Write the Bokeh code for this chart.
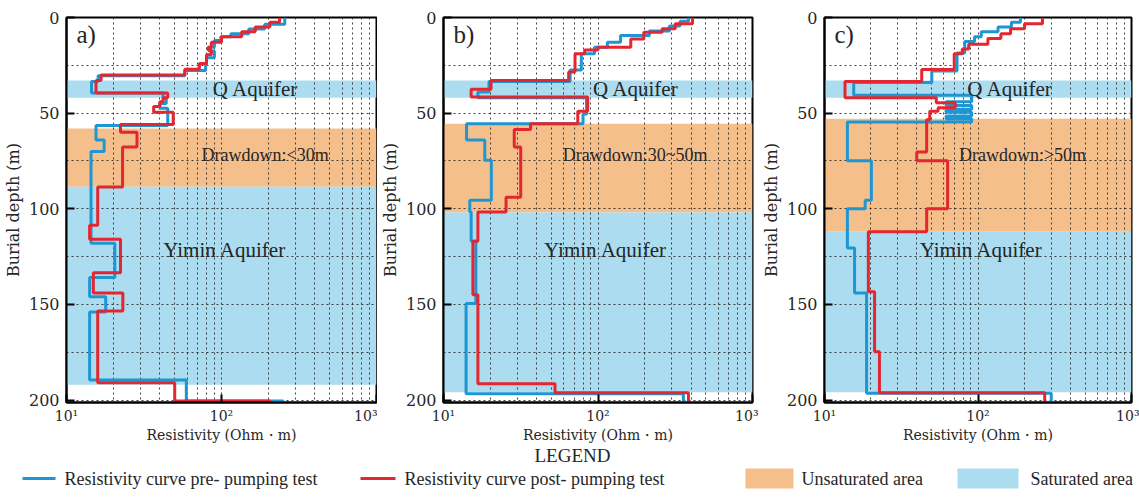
from bokeh.plotting import figure
from bokeh.models import Range1d, FixedTicker
from bokeh.layouts import column, row
from bokeh.embed import file_html
from bokeh.resources import INLINE
from bokeh.core.properties import value

FONT = "Liberation Serif"
AX_FONT = "DejaVu Serif"
PRE_COLOR = "#1E96D4"
POST_COLOR = "#E3262F"
SAT_COLOR = "#ABDCF0"
UNSAT_COLOR = "#F5BF8C"
TEXT_COLOR = "#262626"
GRID_COLOR = "#222222"

DEPTH_MAX = 201.3
X_TICKS = [10, 100, 1000]
X_MINOR = [20, 30, 40, 50, 60, 70, 80, 90, 200, 300, 400, 500, 600, 700, 800, 900]
Y_TICKS = [0, 50, 100, 150, 200]
Y_MINOR = [25, 75, 125, 175]
X_LABELS = {10: "10\u00b9", 100: "10\u00b2", 1000: "10\u00b3"}

# ---- panel a (drawdown < 30 m) ----
a_pre_top = [0, 3.5, 6, 8.5, 10, 12, 15.5, 17.5, 21, 25, 27.7, 30.5, 33.5, 39.5, 42.5, 45, 47.5,
             56.5, 64, 70, 118, 136, 146, 154, 189.6, 200.5]
a_pre_res = [256, 190, 150, 115, 99, 90, 83, 90, 80, 79, 58, 16, 14.5, 42, 44, 40, 45,
             15.5, 17.5, 14.4, 20.5, 14.1, 17.9, 14.1, 59.3, 250]
a_post_top = [0, 2.5, 5, 7.5, 10, 13, 15.5, 17, 19.5, 24, 27, 30, 33, 39.5, 42, 44, 46.5, 49.5,
              56, 60, 67.7, 88.6, 108.6, 116, 133.5, 144, 153.5, 191, 200.5]
a_post_res = [237, 205, 165, 135, 100, 86, 82, 86, 80, 72, 58, 16.7, 15.5, 45, 42, 40, 36.5, 48.8,
              22.3, 28.5, 23, 15.9, 14.1, 22.3, 14.9, 23.1, 15.9, 49.9, 205]
a_q_band = [33, 42]
a_unsat_band = [58, 88.5]
a_yimin_band = [88.5, 192]

# ---- panel b (drawdown 30~50 m) ----
b_pre_top = [0, 2, 4.5, 7, 9.4, 12.9, 15.5, 19, 27.5, 33.4, 39, 41.9, 50.5, 55.5, 64, 74.7,
             95.6, 101.7, 117, 149.5, 196.7]
b_pre_res = [385, 340, 290, 215, 140, 115, 95, 78, 66, 19.7, 16.7, 84.3, 80, 14.1, 18.5, 20.4,
             14.8, 15.1, 16.2, 14, 357]
b_post_top = [0, 3.3, 5.9, 7.7, 11.2, 15.5, 17, 19, 28.5, 33, 37.5, 41.6, 49, 55.5, 58.5, 67.7,
              94, 101.7, 117, 145, 191.5, 196.2]
b_post_res = [409, 316, 260, 198, 163, 100, 82, 71, 64.6, 20.3, 15.1, 85.8, 74, 36.6, 28.7, 31.6,
              25.4, 16.7, 15.5, 16.7, 52.7, 385]
b_q_band = [33, 42]
b_unsat_band = [55.5, 102]
b_yimin_band = [102, 196]

# ---- panel c (drawdown > 50 m) ----
c_pre_top = [0, 2.5, 5, 7.5, 10, 12.5, 18.5, 28, 34, 40.7, 44, 46, 48, 49.5, 51.5, 53, 54.6,
             74.9, 95.6, 100, 120.5, 144, 196.5]
c_pre_res = [189, 165, 135, 105, 95, 82, 73, 50, 15.5, 91, 62, 91, 62, 91, 62, 91, 14.1,
             20.2, 18.4, 14.1, 15.7, 18.8, 300]
c_post_top = [0, 3.3, 5.9, 8.5, 11, 14, 16.5, 19, 27.2, 33.5, 41.9, 44.6, 47.2, 49, 53.4, 70.3,
              74.9, 100, 112, 143.4, 174.8, 196.2]
c_post_res = [263, 201, 163, 141, 116, 87, 79, 70, 43, 13.6, 53.5, 71, 55, 48.5, 46.3, 39.9,
              63.4, 46.3, 19.3, 21.2, 22.8, 272]
c_q_band = [33, 42]
c_unsat_band = [53, 112]
c_yimin_band = [112, 196]


def steps(tops, res, bottom):
    xs, ys = [], []
    bounds = list(tops[1:]) + [bottom]
    for t, b, r in zip(tops, bounds, res):
        xs += [r, r]
        ys += [t, b]
    return xs, ys


def panel(letter, pre_top, pre_res, post_top, post_res, q_band, unsat_band, yimin_band,
          drawdown, width, left, right, q_x, dd_x, y_x):
    p = figure(width=width, height=445, x_axis_type="log",
               x_range=Range1d(10, 1000), y_range=Range1d(DEPTH_MAX, 0),
               output_backend="svg", toolbar_location=None,
               min_border_left=left, min_border_right=right,
               min_border_top=17, min_border_bottom=37)
    p.background_fill_color = "white"
    p.border_fill_color = "white"
    p.outline_line_color = "black"
    p.outline_line_width = 2

    bands = [q_band, unsat_band, yimin_band]
    p.quad(left=[10] * 3, right=[1000] * 3,
           top=[b[0] for b in bands], bottom=[b[1] for b in bands],
           fill_color=[SAT_COLOR, UNSAT_COLOR, SAT_COLOR], line_color=None, level="image")

    xt = FixedTicker(ticks=X_TICKS, minor_ticks=X_MINOR)
    yt = FixedTicker(ticks=Y_TICKS, minor_ticks=Y_MINOR)
    p.xaxis.ticker = xt
    p.yaxis.ticker = yt
    p.xgrid.ticker = xt
    p.ygrid.ticker = yt
    for g in (p.xgrid, p.ygrid):
        g.grid_line_color = GRID_COLOR
        g.grid_line_dash = "2 3"
        g.grid_line_width = 1
        g.grid_line_alpha = 0.85
        g.minor_grid_line_color = GRID_COLOR
        g.minor_grid_line_dash = "2 3"
        g.minor_grid_line_width = 1
        g.minor_grid_line_alpha = 0.85

    xs, ys = steps(pre_top, pre_res, DEPTH_MAX)
    p.line(xs, ys, line_color=PRE_COLOR, line_width=3)
    xs, ys = steps(post_top, post_res, DEPTH_MAX)
    p.line(xs, ys, line_color=POST_COLOR, line_width=3)

    p.xaxis.major_label_overrides = X_LABELS
    p.xaxis.axis_label = "Resistivity (Ohm\u30fbm)"
    p.yaxis.axis_label = "Burial depth (m)"
    p.axis.axis_line_color = "black"
    p.axis.axis_line_width = 2
    p.axis.major_tick_line_color = "black"
    p.axis.major_tick_line_width = 2
    p.axis.major_tick_in = 8
    p.axis.major_tick_out = 0
    p.axis.minor_tick_line_color = None
    p.axis.major_label_text_color = TEXT_COLOR
    p.axis.axis_label_text_font_style = "normal"
    p.axis.axis_label_text_color = TEXT_COLOR
    p.axis.major_label_text_font = AX_FONT
    p.axis.axis_label_text_font = AX_FONT
    p.xaxis.major_label_text_font_size = "14px"
    p.xaxis.axis_label_text_font_size = "14px"
    p.yaxis.major_label_text_font_size = "16px"
    p.yaxis.axis_label_text_font_size = "16px"
    p.xaxis.major_label_standoff = 1
    p.xaxis.axis_label_standoff = 0
    p.yaxis.major_label_standoff = 3
    p.yaxis.axis_label_standoff = 3

    tf = value(FONT)
    p.text(x=[11.6], y=[2], text=[letter], text_font=tf, text_font_size="25px",
           text_baseline="top", text_color=TEXT_COLOR)
    p.text(x=[q_x], y=[37.5], text=["Q Aquifer"], text_font=tf, text_font_size="21px",
           text_align="center", text_baseline="middle", text_color=TEXT_COLOR)
    p.text(x=[dd_x], y=[72], text=[drawdown], text_font=tf, text_font_size="18px",
           text_align="center", text_baseline="middle", text_color=TEXT_COLOR)
    p.text(x=[y_x], y=[121.7], text=["Yimin Aquifer"], text_font=tf, text_font_size="21px",
           text_align="center", text_baseline="middle", text_color=TEXT_COLOR)
    return p


pa = panel("a)", a_pre_top, a_pre_res, a_post_top, a_post_res, a_q_band, a_unsat_band,
           a_yimin_band, "Drawdown:<30m", 377, 60, 1, 166, 191, 105)
pb = panel("b)", b_pre_top, b_pre_res, b_post_top, b_post_res, b_q_band, b_unsat_band,
           b_yimin_band, "Drawdown:30~50m", 381, 60, 6, 176, 174, 112)
pc = panel("c)", c_pre_top, c_pre_res, c_post_top, c_post_res, c_q_band, c_unsat_band,
           c_yimin_band, "Drawdown:>50m", 381, 57, 8, 162, 195, 105)

# ---- legend strip ----
leg = figure(width=1139, height=58, x_range=Range1d(0, 1139), y_range=Range1d(58, 0),
             output_backend="svg", toolbar_location=None,
             min_border_left=0, min_border_right=0, min_border_top=0, min_border_bottom=0)
leg.axis.visible = False
leg.grid.visible = False
leg.outline_line_color = None
leg.background_fill_color = "white"
leg.border_fill_color = "white"
tf = value(FONT)
leg.text(x=[572], y=[10], text=["LEGEND"], text_font=tf, text_font_size="19px",
         text_align="center", text_baseline="middle", text_color=TEXT_COLOR)
leg.segment(x0=[22, 360], y0=[33, 33], x1=[55, 395], y1=[33, 33],
            line_color=[PRE_COLOR, POST_COLOR], line_width=3)
leg.quad(left=[745, 957], right=[793, 1018], top=[23, 23], bottom=[43, 43],
         fill_color=[UNSAT_COLOR, SAT_COLOR], line_color=None)
leg.text(x=[64, 404, 801, 1030], y=[33, 33, 33, 33],
         text=["Resistivity curve pre- pumping test", "Resistivity curve post- pumping test",
               "Unsaturated area", "Saturated area"],
         text_font=tf, text_font_size="18px", text_baseline="middle", text_color=TEXT_COLOR)

layout = column(row(pa, pb, pc), leg)
open("out.html", "w").write(file_html(layout, INLINE))
